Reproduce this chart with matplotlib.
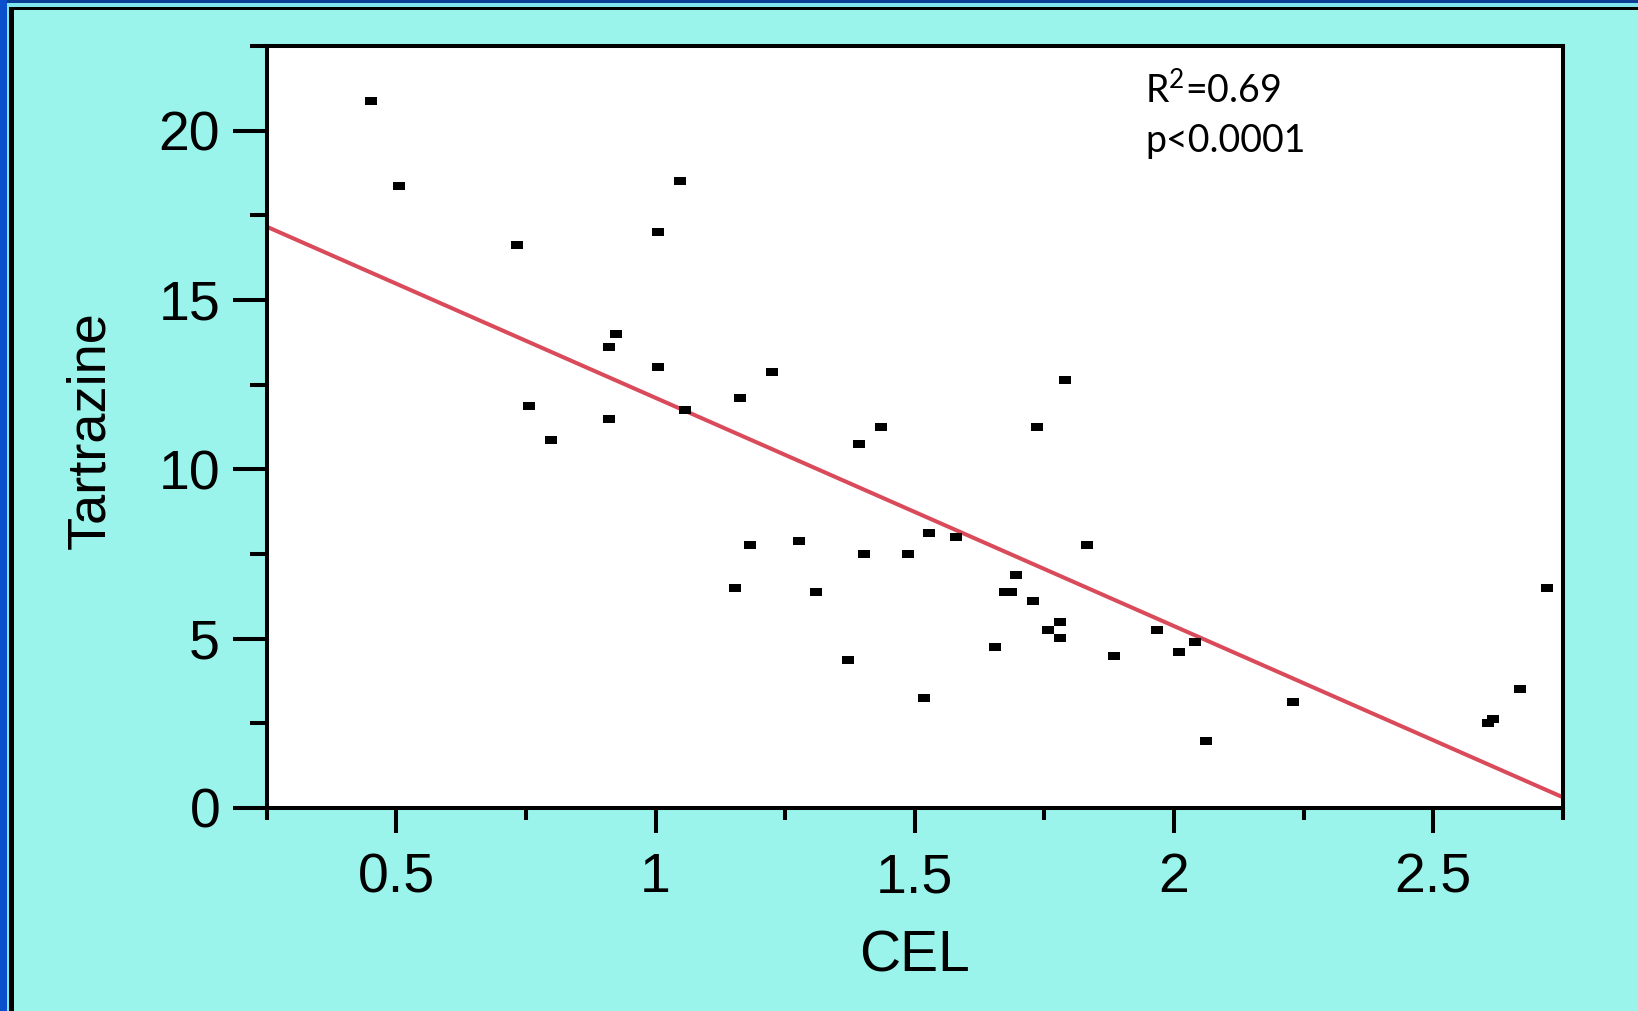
import numpy as np
import matplotlib
matplotlib.use("Agg")
import matplotlib.pyplot as plt
from matplotlib.patches import Rectangle

plt.rcParams["mathtext.fontset"] = "custom"
plt.rcParams["mathtext.rm"] = "Lato"
plt.rcParams["mathtext.it"] = "Lato:italic"
plt.rcParams["mathtext.bf"] = "Lato:bold"

# ---- data ----
cel = [0.452, 0.505, 0.733, 0.755, 0.798, 0.911, 0.923, 0.911, 1.004, 1.048,
       1.004, 1.056, 1.163, 1.224, 1.153, 1.183, 1.276, 1.309, 1.392, 1.434,
       1.402, 1.487, 1.371, 1.517, 1.527, 1.580, 1.655, 1.673, 1.685, 1.695,
       1.727, 1.735, 1.790, 1.757, 1.779, 1.779, 1.832, 1.884, 1.967, 2.009,
       2.041, 2.062, 2.229, 2.605, 2.615, 2.667, 2.720]
tartrazine = [20.88, 18.38, 16.62, 11.86, 10.88, 13.62, 13.99, 11.49, 17.02, 18.50,
              13.01, 11.74, 12.11, 12.88, 6.49, 7.76, 7.88, 6.37, 10.75, 11.25,
              7.51, 7.51, 4.36, 3.25, 8.13, 8.01, 4.74, 6.37, 6.37, 6.87,
              6.12, 11.25, 12.64, 5.26, 5.48, 5.01, 7.76, 4.49, 5.26, 4.61,
              4.89, 1.99, 3.13, 2.51, 2.64, 3.50, 6.49]
fit_slope = -6.74
fit_intercept = 18.85
x_major = [0.5, 1, 1.5, 2, 2.5]
x_major_labels = ["0.5", "1", "1.5", "2", "2.5"]
x_minor = [0.25, 0.75, 1.25, 1.75, 2.25, 2.75]
y_major = [0, 5, 10, 15, 20]
y_major_labels = ["0", "5", "10", "15", "20"]
y_minor = [2.5, 7.5, 12.5, 17.5, 22.5]
x_label = "CEL"
y_label = "Tartrazine"
stat_lines = ["R$^{2}$=0.69", "p<0.0001"]

W, H = 1638, 1011
BG = "#9AF4EC"
fig = plt.figure(figsize=(W / 100, H / 100), dpi=100, facecolor=BG)

def px(x0, y0, w, h, color):
    # rectangle given in pixel coords from top-left
    fig.patches.append(Rectangle((x0 / W, 1 - (y0 + h) / H), w / W, h / H,
                                 transform=fig.transFigure, color=color,
                                 zorder=-10, lw=0))

# frame decorations
px(0, 0, W, 3, "#0B3F95")
px(0, 3, W, 4, "#7FE6F0")
px(0, 0, 7, H, "#0A4FCC")
px(7, 7, 3, H, "#7FE6F0")
px(9, 7, W, 3, "#000000")
px(9, 7, 5, H, "#000000")

left, right, top, bottom = 266.7, 1563, 46, 808
ax = fig.add_axes([left / W, 1 - bottom / H, (right - left) / W, (bottom - top) / H])
ax.set_facecolor("white")

verts = [(-1, -0.72), (1, -0.72), (1, 0.72), (-1, 0.72), (-1, -0.72)]
ax.plot(cel, tartrazine, ls="none", marker=verts, ms=8, color="black", mew=0, zorder=3)

xl = np.array([0.25, 2.75])
ax.plot(xl, fit_intercept + fit_slope * xl, color="#D94A5A", lw=2.9, zorder=2,
        solid_capstyle="butt")

ax.set_xlim(0.25, 2.75)
ax.set_ylim(0, 22.5)
ax.set_xticks(x_major)
ax.set_xticklabels(x_major_labels)
ax.set_xticks(x_minor, minor=True)
ax.set_yticks(y_major)
ax.set_yticklabels(y_major_labels)
ax.set_yticks(y_minor, minor=True)

for s in ax.spines.values():
    s.set_linewidth(2.9)
    s.set_color("black")

ax.tick_params(axis="x", which="major", direction="out", length=18, width=2.9, pad=14)
ax.tick_params(axis="x", which="minor", direction="out", length=8.6, width=2.9)
ax.tick_params(axis="y", which="major", direction="out", length=24.5, width=2.9, pad=9)
ax.tick_params(axis="y", which="minor", direction="out", length=12, width=2.9)
for lab in ax.get_xticklabels() + ax.get_yticklabels():
    lab.set_fontfamily(["Liberation Sans", "DejaVu Sans"])
    lab.set_fontsize(40)

ax.set_xlabel(x_label, fontfamily=["Liberation Sans", "DejaVu Sans"], fontsize=41)
ax.xaxis.label.set_verticalalignment("baseline")
ax.xaxis.set_label_coords(0.5, (bottom - 972) / (bottom - top))

ax.set_ylabel(y_label, fontfamily=["Liberation Sans", "DejaVu Sans"], fontsize=39)
ax.yaxis.label.set_verticalalignment("baseline")
ax.yaxis.set_label_coords((104 - left) / (right - left), (bottom - 430) / (bottom - top))

ax.text((1145 - left) / (right - left), (bottom - 103) / (bottom - top), stat_lines[0],
        transform=ax.transAxes, va="baseline", ha="left",
        fontfamily=["Lato", "DejaVu Sans"], fontsize=27)
ax.text((1145 - left) / (right - left), (bottom - 152) / (bottom - top), stat_lines[1],
        transform=ax.transAxes, va="baseline", ha="left",
        fontfamily=["Lato", "DejaVu Sans"], fontsize=27)

fig.savefig("out.png", dpi=100, facecolor=BG)
